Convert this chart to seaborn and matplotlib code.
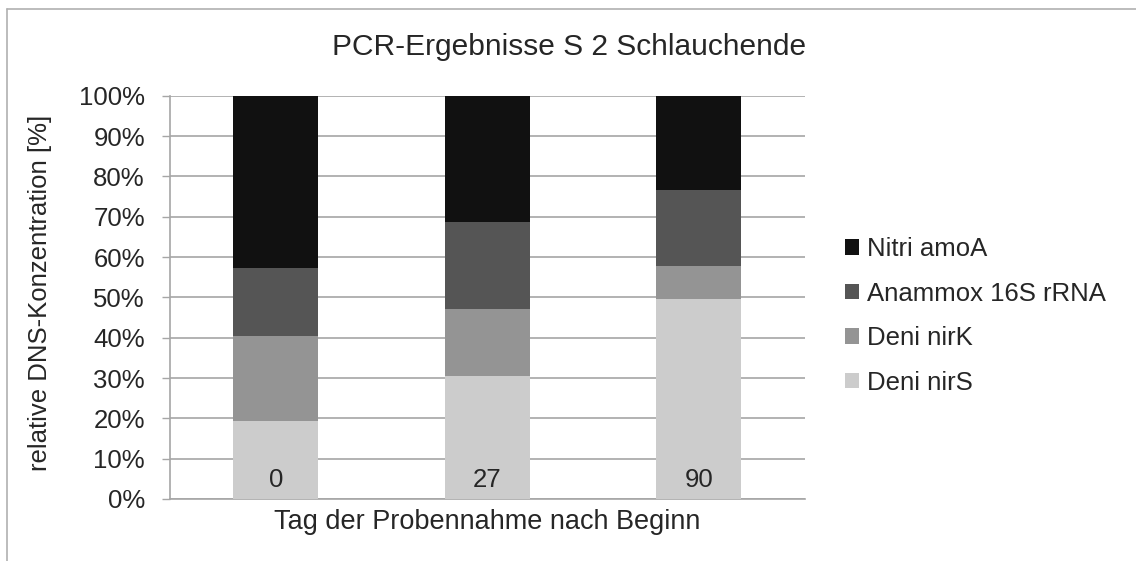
import matplotlib
matplotlib.use("Agg")
import matplotlib.pyplot as plt
import seaborn as sns
import numpy as np
import pandas as pd
from matplotlib.lines import Line2D
from matplotlib.patches import Patch
from matplotlib.ticker import PercentFormatter

days = ["0", "27", "90"]
series_names = ["Deni nirS", "Deni nirK", "Anammox 16S rRNA", "Nitri amoA"]
deni_nirS = [19.4, 30.4, 49.6]
deni_nirK = [21.1, 16.7, 8.2]
anammox = [16.9, 21.6, 18.8]
nitri_amoA = [42.6, 31.3, 23.4]
colors = ["#cccccc", "#949494", "#555555", "#111111"]

title = "PCR-Ergebnisse S 2 Schlauchende"
xlabel = "Tag der Probennahme nach Beginn"
ylabel = "relative DNS-Konzentration [%]"

sns.set_style("white")
plt.rcParams['font.family'] = ['Liberation Sans', 'DejaVu Sans']

fig = plt.figure(figsize=(11.36, 5.61), dpi=100)
ax = fig.add_axes([170/1136, 1-499/561, (804.5-170)/1136, (499-95.7)/561])

values = [deni_nirS, deni_nirK, anammox, nitri_amoA]
bottom = np.zeros(len(days))
for name, vals, col in zip(series_names, values, colors):
    df = pd.DataFrame({"day": days, "val": vals})
    sns.barplot(data=df, x="day", y="val", order=days, color=col,
                bottom=bottom.copy(), width=0.40, ax=ax, saturation=1,
                edgecolor="none", linewidth=0, zorder=3)
    bottom += np.array(vals)

ax.set_ylim(0, 100)
ax.set_xlim(-0.5, 2.5)
ax.set_yticks(np.arange(0, 101, 10))
ax.yaxis.set_major_formatter(PercentFormatter(decimals=0))
ax.tick_params(axis='y', labelsize=18.5, length=6, color="#a6a6a6", width=1, pad=12, left=True)
ax.tick_params(axis='x', bottom=False, labelbottom=False)
ax.yaxis.grid(True, color="#a6a6a6", linewidth=1.2, zorder=0)
ax.set_axisbelow(True)
for s in ["top", "right"]:
    ax.spines[s].set_visible(False)
for s in ["left", "bottom"]:
    ax.spines[s].set_color("#a6a6a6")
    ax.spines[s].set_linewidth(1.2)
ax.set_xlabel("")
ax.set_ylabel("")

trans = ax.get_xaxis_transform()
for i, d in enumerate(days):
    ax.text(i, 0.047, d, transform=trans, ha="center", va="center", fontsize=18.5, zorder=5)

fig.text(487/1136, 1-522/561, xlabel, ha="center", va="center", fontsize=19.5)
fig.text(40/1136, 1-293/561, ylabel, ha="center", va="center", rotation=90, fontsize=18.5)
fig.text(569/1136, 1-47/561, title, ha="center", va="center", fontsize=21.5)

handles = [Patch(facecolor=c, edgecolor="none") for c in colors[::-1]]
leg = fig.legend(handles, series_names[::-1], loc="center left",
                 bbox_to_anchor=(845/1136, 1-316/561), frameon=False,
                 fontsize=18.5, handlelength=0.55, handleheight=0.55,
                 handletextpad=0.3, labelspacing=0.8, borderaxespad=0, borderpad=0)

fig.add_artist(Line2D([7/1136, 7/1136], [0, 1-9/561], color="#b0b0b0", linewidth=1.2, transform=fig.transFigure))
fig.add_artist(Line2D([7/1136, 1], [1-9/561, 1-9/561], color="#b0b0b0", linewidth=1.2, transform=fig.transFigure))

fig.savefig("out.png", dpi=100)
